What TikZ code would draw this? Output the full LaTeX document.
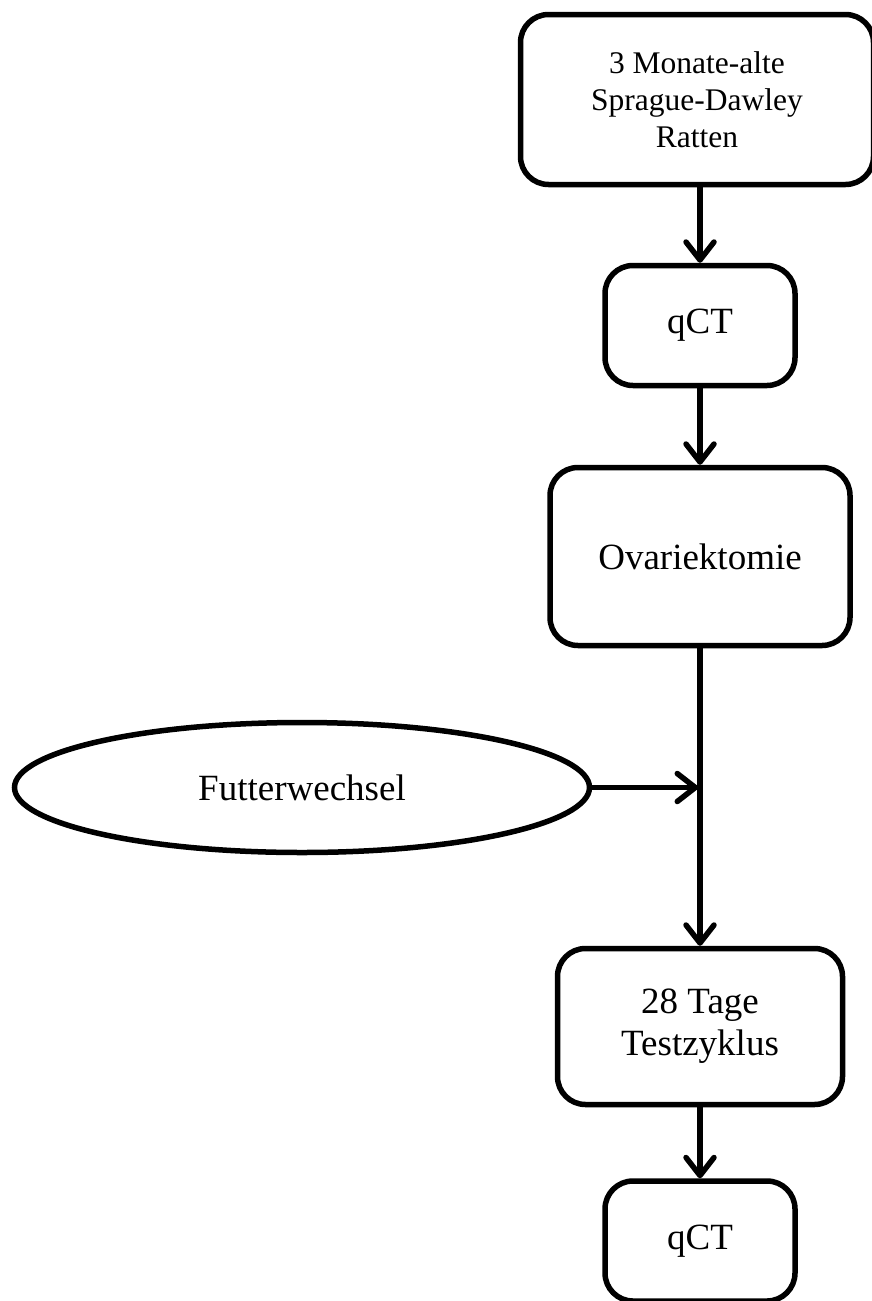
\documentclass[tikz,border=0pt]{standalone}
\usepackage{fontspec}
\setmainfont{Liberation Serif}
\usetikzlibrary{arrows.meta,shapes.geometric}
\begin{document}
\begin{tikzpicture}[x=1pt,y=-1pt]
\tikzset{stage/.style={draw, rounded corners=28pt, line width=5.5pt, inner sep=0pt, align=center, font=\fontsize{37}{42}\selectfont},
  flow/.style={line width=5.5pt, -{Straight Barb[length=18pt,width=28pt,round]}}}
    \useasboundingbox (0,0) rectangle (871,1301);

    \node[stage, minimum width=353pt, minimum height=170pt, font=\fontsize{31.5}{37}\selectfont] at (697,99.5) (rats) {3 Monate-alte\\Sprague-Dawley\\Ratten};
    \node[stage, minimum width=190pt, minimum height=120pt] at (700,325.5) (qct1) {qCT};
    \node[stage, minimum width=300pt, minimum height=178pt] at (700,556.5) (ovar) {Ovariektomie};
    \node[draw, ellipse, line width=5.5pt, inner sep=0pt, minimum width=575pt, minimum height=130pt, font=\fontsize{37}{42}\selectfont] at (302,787.5) (futter) {Futterwechsel};
    \node[stage, minimum width=285pt, minimum height=156pt] at (700,1026.5) (tage) {28 Tage\\Testzyklus};
    \node[stage, minimum width=190pt, minimum height=120pt] at (700,1241) (qct2) {qCT};
    \coordinate (merge) at (ovar.south |- futter.east);

    \draw[flow] (rats.south -| qct1.north) -- (qct1.north);
    \draw[flow] (qct1) -- (ovar);
    \draw[flow] (ovar) -- (tage);
    \draw[flow, shorten >=2pt] (futter.east) -- (merge);
    \draw[flow] (tage) -- (qct2);

\end{tikzpicture}
\end{document}
